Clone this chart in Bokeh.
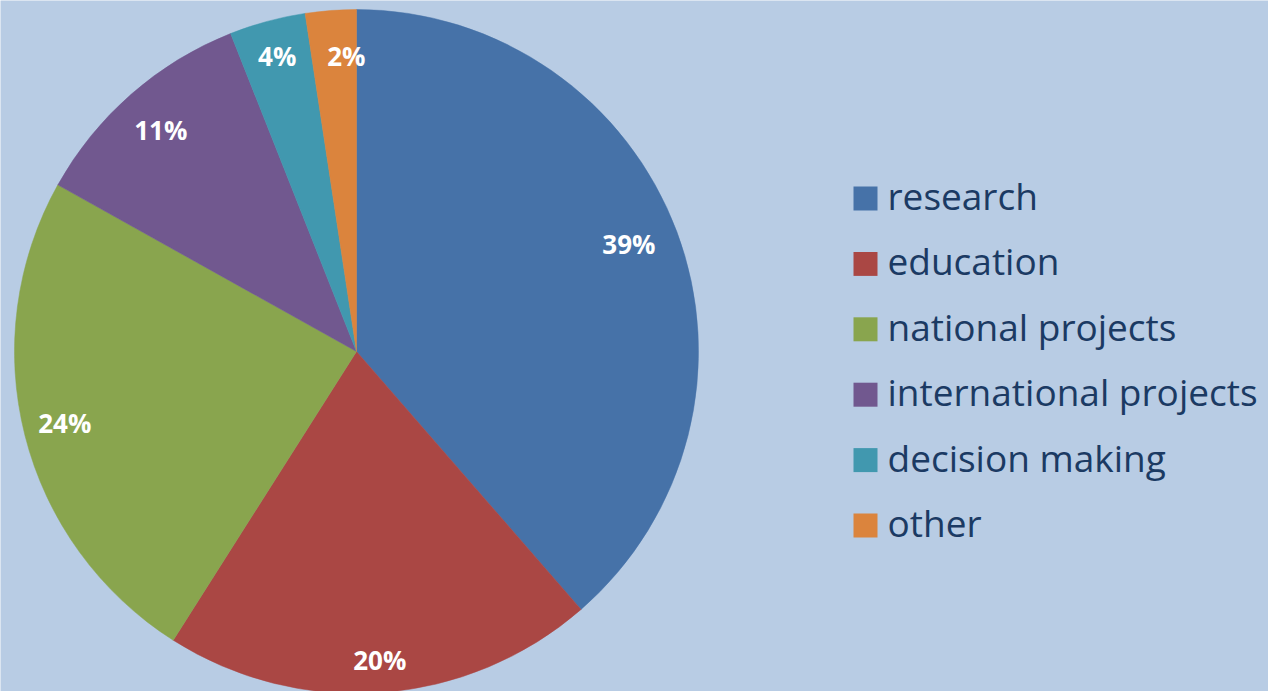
import math
from bokeh.plotting import figure
from bokeh.models import Range1d, ColumnDataSource
from bokeh.core.properties import value
from bokeh.embed import file_html
from bokeh.resources import INLINE

categories = ["research", "education", "national projects", "international projects", "decision making", "other"]
shares = [38.6, 20.4, 24.1, 10.9, 3.6, 2.4]
labels = ["39%", "20%", "24%", "11%", "4%", "2%"]
colors = ["#4672A8", "#AA4744", "#89A54E", "#71588F", "#4198AF", "#DB843D"]

W, H = 1268, 691
BG = "#B8CCE4"
cx, cy, R = 356, H - 351, 342
label_radii = [293, 309, 301, 297, 304, 294]
label_nudge_x = [-2, 0, 0, 0, 0, 12]
label_nudge_y = [5, 0, 2, -2, 2, 2]

p = figure(width=W, height=H, output_backend="svg", toolbar_location=None,
           x_range=Range1d(0, W), y_range=Range1d(0, H), min_border=0)
p.axis.visible = False
p.grid.visible = False
p.outline_line_color = None
p.background_fill_color = BG
p.border_fill_color = BG

total = sum(shares)
starts, ends, lx, ly = [], [], [], []
acc = 0.0
for s, lr, nx, ny in zip(shares, label_radii, label_nudge_x, label_nudge_y):
    a0 = math.pi / 2 - 2 * math.pi * acc / total
    a1 = math.pi / 2 - 2 * math.pi * (acc + s) / total
    mid = (a0 + a1) / 2
    starts.append(a1)
    ends.append(a0)
    lx.append(cx + lr * math.cos(mid) + nx)
    ly.append(cy + lr * math.sin(mid) + ny)
    acc += s

src = ColumnDataSource(dict(start=starts, end=ends, color=colors, lx=lx, ly=ly, label=labels))
p.wedge(x=cx, y=cy, radius=R, start_angle="start", end_angle="end",
        fill_color="color", line_color="color", line_width=0.5, source=src)
p.text(x="lx", y="ly", text="label", source=src, text_color="white",
       text_font=value("Open Sans"), text_font_style="bold", text_font_size="26px",
       text_align="center", text_baseline="middle")

# legend
n = len(categories)
ys = [H - (198 + i * 65.4) for i in range(n)]
leg = ColumnDataSource(dict(x=[865] * n, tx=[887] * n, y=ys, ty=[y + 3 for y in ys],
                            color=colors, name=categories))
p.rect(x="x", y="y", width=24, height=24, fill_color="color", line_color=None, source=leg)
p.text(x="tx", y="ty", text="name", source=leg, text_color="#1B3A63",
       text_font=value("Open Sans"), text_font_size="37px",
       text_align="left", text_baseline="middle")

open("out.html", "w").write(file_html(p, INLINE))
